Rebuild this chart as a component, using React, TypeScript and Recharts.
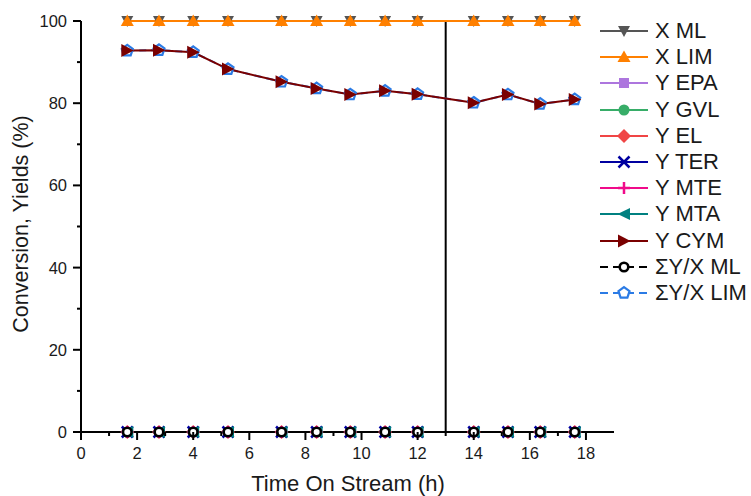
import React from 'react';
import { ComposedChart, Line, XAxis, YAxis, ReferenceLine } from 'recharts';

// ---------- data ----------
const timeOnStream = [1.65, 2.78, 4.0, 5.24, 7.15, 8.4, 9.6, 10.84, 12.0, 14.0, 15.22, 16.37, 17.6];
const convML = [100, 100, 100, 100, 100, 100, 100, 100, 100, 100, 100, 100, 100];
const convLIM = [100, 100, 100, 100, 100, 100, 100, 100, 100, 100, 100, 100, 100];
const yieldEPA = [0, 0, 0, 0, 0, 0, 0, 0, 0, 0, 0, 0, 0];
const yieldGVL = [0, 0, 0, 0, 0, 0, 0, 0, 0, 0, 0, 0, 0];
const yieldEL = [0, 0, 0, 0, 0, 0, 0, 0, 0, 0, 0, 0, 0];
const yieldTER = [0, 0, 0, 0, 0, 0, 0, 0, 0, 0, 0, 0, 0];
const yieldMTE = [0, 0, 0, 0, 0, 0, 0, 0, 0, 0, 0, 0, 0];
const yieldMTA = [0, 0, 0, 0, 0, 0, 0, 0, 0, 0, 0, 0, 0];
const yieldCYM = [92.8, 92.9, 92.4, 88.3, 85.2, 83.6, 82.1, 83.0, 82.2, 80.1, 82.1, 79.8, 80.9];
const sumML = [0, 0, 0, 0, 0, 0, 0, 0, 0, 0, 0, 0, 0];
const sumLIM = [92.8, 92.9, 92.4, 88.3, 85.2, 83.6, 82.1, 83.0, 82.2, 80.1, 82.1, 79.8, 80.9];

const xTicks = [0, 1, 2, 3, 4, 5, 6, 7, 8, 9, 10, 11, 12, 13, 14, 15, 16, 17, 18];
const xMajor = [0, 2, 4, 6, 8, 10, 12, 14, 16, 18];
const yTicks = [0, 10, 20, 30, 40, 50, 60, 70, 80, 90, 100];
const yMajor = [0, 20, 40, 60, 80, 100];
const xDomain = [0, 19];
const yDomain = [0, 100];
const feedSwitchTime = 13;

const data = timeOnStream.map((t, i) => ({
  t,
  xML: convML[i],
  xLIM: convLIM[i],
  yEPA: yieldEPA[i],
  yGVL: yieldGVL[i],
  yEL: yieldEL[i],
  yTER: yieldTER[i],
  yMTE: yieldMTE[i],
  yMTA: yieldMTA[i],
  yCYM: yieldCYM[i],
  sML: sumML[i],
  sLIM: sumLIM[i],
}));

type Shape =
  | 'down' | 'up' | 'square' | 'circle' | 'diamond' | 'cross' | 'plus'
  | 'left' | 'right' | 'openCircle' | 'openPentagon';

interface SeriesDef {
  key: string;
  name: string;
  color: string;
  shape: Shape;
  dashed?: boolean;
}

const legendSeries: SeriesDef[] = [
  { key: 'xML', name: 'X ML', color: '#555555', shape: 'down' },
  { key: 'xLIM', name: 'X LIM', color: '#FF8000', shape: 'up' },
  { key: 'yEPA', name: 'Y EPA', color: '#AD76DE', shape: 'square' },
  { key: 'yGVL', name: 'Y GVL', color: '#37AD68', shape: 'circle' },
  { key: 'yEL', name: 'Y EL', color: '#F04545', shape: 'diamond' },
  { key: 'yTER', name: 'Y TER', color: '#0000A0', shape: 'cross' },
  { key: 'yMTE', name: 'Y MTE', color: '#F00A8A', shape: 'plus' },
  { key: 'yMTA', name: 'Y MTA', color: '#008080', shape: 'left' },
  { key: 'yCYM', name: 'Y CYM', color: '#7A0000', shape: 'right' },
  { key: 'sML', name: 'ΣY/X ML', color: '#000000', shape: 'openCircle', dashed: true },
  { key: 'sLIM', name: 'ΣY/X LIM', color: '#2B7BE5', shape: 'openPentagon', dashed: true },
];

const drawOrder = ['xML', 'xLIM', 'sLIM', 'yEPA', 'yGVL', 'yEL', 'yTER', 'yMTE', 'yMTA', 'yCYM', 'sML'];

const FONT = '"Liberation Sans", Arial, sans-serif';

function Marker({ shape, cx, cy, color }: { shape: Shape; cx: number; cy: number; color: string }) {
  if (cx == null || cy == null || isNaN(cx) || isNaN(cy)) return null;
  const p = (pts: number[][]) => pts.map((q) => `${cx + q[0]},${cy + q[1]}`).join(' ');
  switch (shape) {
    case 'down':
      return <polygon points={p([[-6, -5], [6, -5], [0, 6]])} fill={color} />;
    case 'up':
      return <polygon points={p([[-6.5, 5], [6.5, 5], [0, -6.5]])} fill={color} />;
    case 'square':
      return <rect x={cx - 5} y={cy - 5} width={10} height={10} fill={color} />;
    case 'circle':
      return <circle cx={cx} cy={cy} r={5.5} fill={color} />;
    case 'diamond':
      return <polygon points={p([[0, -7], [7, 0], [0, 7], [-7, 0]])} fill={color} />;
    case 'cross':
      return (
        <g stroke={color} strokeWidth={2.5}>
          <line x1={cx - 5.5} y1={cy - 5.5} x2={cx + 5.5} y2={cy + 5.5} />
          <line x1={cx - 5.5} y1={cy + 5.5} x2={cx + 5.5} y2={cy - 5.5} />
        </g>
      );
    case 'plus':
      return (
        <g stroke={color} strokeWidth={2.5}>
          <line x1={cx - 6} y1={cy} x2={cx + 6} y2={cy} />
          <line x1={cx} y1={cy - 6} x2={cx} y2={cy + 6} />
        </g>
      );
    case 'left':
      return <polygon points={p([[6, -6], [6, 6], [-6.5, 0]])} fill={color} />;
    case 'right':
      return <polygon points={p([[-6, -6.5], [-6, 6.5], [6.5, 0]])} fill={color} />;
    case 'openCircle':
      return <circle cx={cx} cy={cy} r={4.3} fill="#fff" stroke={color} strokeWidth={2.6} />;
    case 'openPentagon': {
      const pts: number[][] = [];
      for (let k = 0; k < 5; k++) {
        const a = -Math.PI / 2 + (k * 2 * Math.PI) / 5;
        pts.push([5.8 * Math.cos(a), 5.8 * Math.sin(a)]);
      }
      return <polygon points={p(pts)} fill="#fff" stroke={color} strokeWidth={2.2} />;
    }
  }
  return null;
}

const XTick = (props: any) => {
  const { x, y, payload } = props;
  const major = xMajor.includes(payload.value);
  return (
    <g>
      <line x1={x} y1={y} x2={x} y2={y + (major ? 8 : 4)} stroke="#000" strokeWidth={2} />
      {major && (
        <text x={x} y={y + 27} textAnchor="middle" fontSize={16.5} fontFamily={FONT} fill="#1a1a1a">
          {payload.value}
        </text>
      )}
    </g>
  );
};

const YTick = (props: any) => {
  const { x, y, payload } = props;
  const major = yMajor.includes(payload.value);
  return (
    <g>
      <line x1={x - (major ? 8 : 4)} y1={y} x2={x} y2={y} stroke="#000" strokeWidth={2} />
      {major && (
        <text x={x - 14} y={y + 6} textAnchor="end" fontSize={16.5} fontFamily={FONT} fill="#1a1a1a">
          {payload.value}
        </text>
      )}
    </g>
  );
};

const Legend = () => (
  <div style={{ position: 'absolute', left: 598, top: 18, fontFamily: FONT }}>
    {legendSeries.map((s) => (
      <div key={s.key} style={{ display: 'flex', alignItems: 'center', height: 26.2 }}>
        <svg width={52} height={20} style={{ display: 'block' }}>
          <line
            x1={2}
            y1={10}
            x2={50}
            y2={10}
            stroke={s.color}
            strokeWidth={2.2}
            strokeDasharray={s.dashed ? '8 5' : undefined}
          />
          <Marker shape={s.shape} cx={26} cy={10} color={s.color} />
        </svg>
        <span style={{ fontSize: 22, color: '#1a1a1a', marginLeft: 5, whiteSpace: 'nowrap', lineHeight: '22px' }}>
          {s.name}
        </span>
      </div>
    ))}
  </div>
);

export default function App() {
  const byKey: Record<string, SeriesDef> = {};
  legendSeries.forEach((s) => (byKey[s.key] = s));
  return (
    <div style={{ position: 'absolute', left: 0, top: 0, width: 751, height: 496, background: '#fff' }}>
      <ComposedChart width={751} height={496} data={data} margin={{ top: 21, right: 137, bottom: 0, left: 0 }}>
        <XAxis
          dataKey="t"
          type="number"
          domain={xDomain}
          ticks={xTicks}
          interval={0}
          height={64}
          tickSize={0}
          tickMargin={0}
          tickLine={false}
          axisLine={{ stroke: '#000', strokeWidth: 2 }}
          tick={<XTick />}
          label={{
            content: () => (
              <text x={348} y={491} textAnchor="middle" fontSize={22} fontFamily={FONT} fill="#1a1a1a">
                Time On Stream (h)
              </text>
            ),
          }}
        />
        <YAxis
          type="number"
          domain={yDomain}
          ticks={yTicks}
          interval={0}
          width={81}
          tickSize={0}
          tickMargin={0}
          tickLine={false}
          axisLine={{ stroke: '#000', strokeWidth: 2 }}
          tick={<YTick />}
          label={{
            content: () => (
              <text
                x={28}
                y={224}
                transform="rotate(-90 28 224)"
                textAnchor="middle"
                fontSize={21.5}
                fontFamily={FONT}
                fill="#1a1a1a"
              >
                Conversion, Yields (%)
              </text>
            ),
          }}
        />
        <ReferenceLine x={feedSwitchTime} stroke="#000" strokeWidth={2} />
        {drawOrder.map((k) => {
          const s = byKey[k];
          return (
            <Line
              key={k}
              dataKey={k}
              name={s.name}
              stroke={s.color}
              strokeWidth={2}
              strokeDasharray={s.dashed ? '7 5' : undefined}
              isAnimationActive={false}
              activeDot={false}
              dot={(p: any) => (
                <Marker key={`${k}-${p.index}`} shape={s.shape} cx={p.cx} cy={p.cy} color={s.color} />
              )}
            />
          );
        })}
      </ComposedChart>
      <Legend />
    </div>
  );
}
